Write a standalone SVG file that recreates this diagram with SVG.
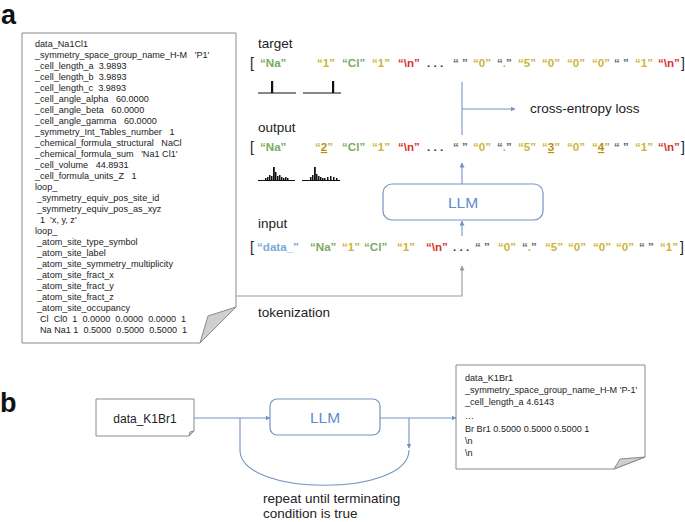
<svg xmlns="http://www.w3.org/2000/svg" width="685" height="522" viewBox="0 0 685 522">
<style>
.lbl{font-family:"Liberation Sans",Arial,sans-serif;fill:#222}
.big{font-family:"Liberation Sans",Arial,sans-serif;font-weight:bold;font-size:27px;fill:#111}
.cif{font-family:"Liberation Sans",Arial,sans-serif;font-size:9.1px;fill:#222}
.cif text{white-space:pre}
.tok{font-family:"Liberation Sans",Arial,sans-serif;font-size:11.6px;font-weight:bold}
.tok text{white-space:pre}
.g{fill:#7aab62}.y{fill:#cdb43a}.d{fill:#b8900c}.r{fill:#d8312b}.b{fill:#79aad8}.k{fill:#333}.q{fill:#666}
.br{font-family:"Liberation Sans",Arial,sans-serif;font-size:14px;fill:#222}
.doc{fill:#fff;stroke:#8a8a8a;stroke-width:1}
.fold{fill:#cfcfcf;stroke:#8a8a8a;stroke-width:1}
.llm{fill:#fff;stroke:#7393c2;stroke-width:1.2}
.llmt{font-family:"Liberation Sans",Arial,sans-serif;font-size:15.5px;fill:#5f8ccc}
.con{fill:none;stroke:#7393c2;stroke-width:1.1}
.gcon{fill:none;stroke:#9a9a9a;stroke-width:1.1}
</style>
<defs>
<marker id="ah" viewBox="0 0 10 10" refX="9" refY="5" markerWidth="5" markerHeight="5" markerUnits="userSpaceOnUse" orient="auto"><path d="M0,0 L10,5 L0,10 Z" fill="#7393c2"/></marker>
<marker id="ahg" viewBox="0 0 10 10" refX="9" refY="5" markerWidth="5" markerHeight="5" markerUnits="userSpaceOnUse" orient="auto"><path d="M0,0 L10,5 L0,10 Z" fill="#9a9a9a"/></marker>
</defs>
<rect width="685" height="522" fill="#fff"/>
<text class="big" x="1" y="24" font-size="24">a</text>
<text class="big" x="0" y="412">b</text>

<g id="cif-a">
<path class="doc" d="M22,33 H236 V307 L200,343 H22 Z"/>
<path class="fold" d="M200,343 L236,307 L208,316 Z"/>
<g class="cif">
<text xml:space="preserve" x="35" y="47">data_Na1Cl1</text>
<text xml:space="preserve" x="35" y="58">_symmetry_space_group_name_H-M   'P1'</text>
<text xml:space="preserve" x="35" y="69">_cell_length_a  3.9893</text>
<text xml:space="preserve" x="35" y="80">_cell_length_b  3.9893</text>
<text xml:space="preserve" x="35" y="91">_cell_length_c  3.9893</text>
<text xml:space="preserve" x="35" y="102">_cell_angle_alpha   60.0000</text>
<text xml:space="preserve" x="35" y="113">_cell_angle_beta   60.0000</text>
<text xml:space="preserve" x="35" y="124">_cell_angle_gamma   60.0000</text>
<text xml:space="preserve" x="35" y="135">_symmetry_Int_Tables_number   1</text>
<text xml:space="preserve" x="35" y="146">_chemical_formula_structural   NaCl</text>
<text xml:space="preserve" x="35" y="157">_chemical_formula_sum   'Na1 Cl1'</text>
<text xml:space="preserve" x="35" y="168">_cell_volume   44.8931</text>
<text xml:space="preserve" x="35" y="179">_cell_formula_units_Z   1</text>
<text xml:space="preserve" x="35" y="190">loop_</text>
<text xml:space="preserve" x="37" y="201">_symmetry_equiv_pos_site_id</text>
<text xml:space="preserve" x="37" y="212">_symmetry_equiv_pos_as_xyz</text>
<text xml:space="preserve" x="40" y="223">1  'x, y, z'</text>
<text xml:space="preserve" x="35" y="234">loop_</text>
<text xml:space="preserve" x="37" y="245">_atom_site_type_symbol</text>
<text xml:space="preserve" x="37" y="256">_atom_site_label</text>
<text xml:space="preserve" x="37" y="267">_atom_site_symmetry_multiplicity</text>
<text xml:space="preserve" x="37" y="278">_atom_site_fract_x</text>
<text xml:space="preserve" x="37" y="289">_atom_site_fract_y</text>
<text xml:space="preserve" x="37" y="300">_atom_site_fract_z</text>
<text xml:space="preserve" x="37" y="311">_atom_site_occupancy</text>
<text xml:space="preserve" x="40" y="322">Cl  Cl0  1  0.0000  0.0000  0.0000  1</text>
<text xml:space="preserve" x="40" y="333">Na Na1 1  0.5000  0.5000  0.5000  1</text>
</g>
</g>

<g id="labels-a" class="lbl" font-size="13.5">
<text x="258" y="48">target</text>
<text x="258" y="132">output</text>
<text x="258" y="228">input</text>
<text x="258" y="317">tokenization</text>
<text x="530" y="113">cross-entropy loss</text>
</g>

<g id="target-row">
<text class="br" x="250" y="68">[</text>
<text class="br" x="681" y="68">]</text>
<g class="tok">
<text x="260" y="67" class="g">“Na”</text>
<text x="317" y="67" class="y">“1”</text>
<text x="342" y="67" class="g">“Cl”</text>
<text x="372" y="67" class="y">“1”</text>
<text x="398" y="67" class="r">“\n”</text>
<text xml:space="preserve" x="427" y="67" class="k">. . .</text>
<text xml:space="preserve" x="453" y="67" class="q">“ ”</text>
<text x="473" y="67" class="y">“0”</text>
<text x="497" y="67" class="q">“<tspan class="y">.</tspan>”</text>
<text x="518" y="67" class="y">“5”</text>
<text x="542" y="67" class="y">“0”</text>
<text x="567" y="67" class="y">“0”</text>
<text x="592" y="67" class="y">“0”</text>
<text xml:space="preserve" x="614" y="67" class="q">“ ”</text>
<text x="635" y="67" class="y">“1”</text>
<text x="658" y="67" class="r">“\n”</text>
</g>
<g fill="#111">
<rect x="258" y="92.5" width="38" height="1"/>
<rect x="271" y="81" width="2.2" height="12"/>
<rect x="303" y="92.5" width="38" height="1"/>
<rect x="332" y="81" width="2.2" height="12"/>
</g>
</g>

<g id="output-row">
<text class="br" x="250" y="152">[</text>
<text class="br" x="681" y="152">]</text>
<g class="tok">
<text x="260" y="151" class="g">“Na”</text>
<text x="315" y="151" class="y">“<tspan class="d" text-decoration="underline">2</tspan>”</text>
<text x="342" y="151" class="g">“Cl”</text>
<text x="372" y="151" class="y">“1”</text>
<text x="398" y="151" class="r">“\n”</text>
<text xml:space="preserve" x="427" y="151" class="k">. . .</text>
<text xml:space="preserve" x="453" y="151" class="q">“ ”</text>
<text x="473" y="151" class="y">“0”</text>
<text x="497" y="151" class="q">“<tspan class="y">.</tspan>”</text>
<text x="518" y="151" class="y">“5”</text>
<text x="542" y="151" class="y">“<tspan class="d" text-decoration="underline">3</tspan>”</text>
<text x="567" y="151" class="y">“0”</text>
<text x="592" y="151" class="y">“<tspan class="d" text-decoration="underline">4</tspan>”</text>
<text xml:space="preserve" x="614" y="151" class="q">“ ”</text>
<text x="635" y="151" class="y">“1”</text>
<text x="658" y="151" class="r">“\n”</text>
</g>
<g fill="#111">
<rect x="258" y="180" width="37" height="1"/>
<rect x="265" y="178" width="1.5" height="2"/>
<rect x="267" y="177" width="1.5" height="3"/>
<rect x="269" y="175" width="1.5" height="5"/>
<rect x="271" y="176" width="1.5" height="4"/>
<rect x="273" y="167" width="1.8" height="13"/>
<rect x="275" y="172" width="1.5" height="8"/>
<rect x="277" y="176" width="1.5" height="4"/>
<rect x="279" y="175" width="1.5" height="5"/>
<rect x="281" y="177" width="1.5" height="3"/>
<rect x="283" y="178" width="1.5" height="2"/>
<rect x="285" y="177" width="1.5" height="3"/>
<rect x="287" y="178" width="1.5" height="2"/>
<rect x="302" y="180" width="38" height="1"/>
<rect x="310" y="177" width="1.5" height="3"/>
<rect x="312" y="175" width="1.5" height="5"/>
<rect x="314" y="167" width="1.8" height="13"/>
<rect x="316" y="174" width="1.5" height="6"/>
<rect x="318" y="176" width="1.5" height="4"/>
<rect x="320" y="177" width="1.5" height="3"/>
<rect x="322" y="178" width="1.5" height="2"/>
<rect x="324" y="178" width="1.5" height="2"/>
<rect x="327" y="177" width="1.5" height="3"/>
<rect x="330" y="176" width="1.5" height="4"/>
<rect x="333" y="177" width="1.5" height="3"/>
<rect x="336" y="178" width="1.5" height="2"/>
</g>
</g>

<g id="input-row">
<text class="br" x="250" y="252">[</text>
<text class="br" x="680" y="252">]</text>
<g class="tok">
<text x="257" y="251" class="b">“data_”</text>
<text x="310" y="251" class="g">“Na”</text>
<text x="342" y="251" class="y">“1”</text>
<text x="364" y="251" class="g">“Cl”</text>
<text x="397" y="251" class="y">“1”</text>
<text x="426" y="251" class="r">“\n”</text>
<text xml:space="preserve" x="453" y="251" class="k">. . .</text>
<text xml:space="preserve" x="475" y="251" class="q">“ ”</text>
<text x="498" y="251" class="y">“0”</text>
<text x="522" y="251" class="q">“<tspan class="y">.</tspan>”</text>
<text x="545" y="251" class="y">“5”</text>
<text x="568" y="251" class="y">“0”</text>
<text x="593" y="251" class="y">“0”</text>
<text x="616" y="251" class="y">“0”</text>
<text xml:space="preserve" x="639" y="251" class="q">“ ”</text>
<text x="660" y="251" class="y">“1”</text>
</g>
</g>

<g id="llm-a">
<rect class="llm" x="383" y="184" width="160" height="36" rx="9"/>
<text class="llmt" x="463" y="208" text-anchor="middle">LLM</text>
</g>

<g id="data-K1Br1">
<path class="doc" d="M96,399 H194 V431 L189,436 H96 Z"/>
<path class="fold" d="M189,436 L194,431 L190,432 Z"/>
<text class="lbl" font-size="12" x="145" y="423" text-anchor="middle">data_K1Br1</text>
</g>

<g id="llm-b">
<rect class="llm" x="270" y="399" width="110" height="36" rx="7"/>
<text class="llmt" x="325" y="423" text-anchor="middle">LLM</text>
</g>

<g id="cif-b">
<path class="doc" d="M456,365 H645 V457 L614,469 H456 Z"/>
<path class="fold" d="M614,469 L645,457 L620,459 Z"/>
<g class="cif" font-size="9.3">
<text x="465" y="381">data_K1Br1</text>
<text x="465" y="393">_symmetry_space_group_name_H-M 'P-1'</text>
<text x="465" y="405">_cell_length_a 4.6143</text>
<text x="465" y="419">…</text>
<text x="465" y="432">Br Br1 0.5000 0.5000 0.5000 1</text>
<text x="465" y="444">\n</text>
<text x="465" y="456">\n</text>
</g>
</g>

<g id="labels-b" class="lbl" font-size="13.5">
<text x="263" y="503">repeat until terminating</text>
<text x="263" y="518">condition is true</text>
</g>

<g id="connectors">
<path class="con" d="M462,82 V135"/>
<path class="con" d="M462,109 H515" marker-end="url(#ah)"/>
<path class="con" d="M462,184 V163" marker-end="url(#ah)"/>
<path class="con" d="M462,236 V221" marker-end="url(#ah)"/>
<path class="gcon" d="M236,296 H462 V266" marker-end="url(#ahg)"/>
<path class="con" d="M194,418 H270" marker-end="url(#ah)"/>
<path class="con" d="M380,418 H456" marker-end="url(#ah)"/>
<path class="con" d="M409,418 V448" marker-end="url(#ah)"/>
<path class="con" d="M240,418 V450 C240,497 409,497 409,450"/>
</g>
</svg>
